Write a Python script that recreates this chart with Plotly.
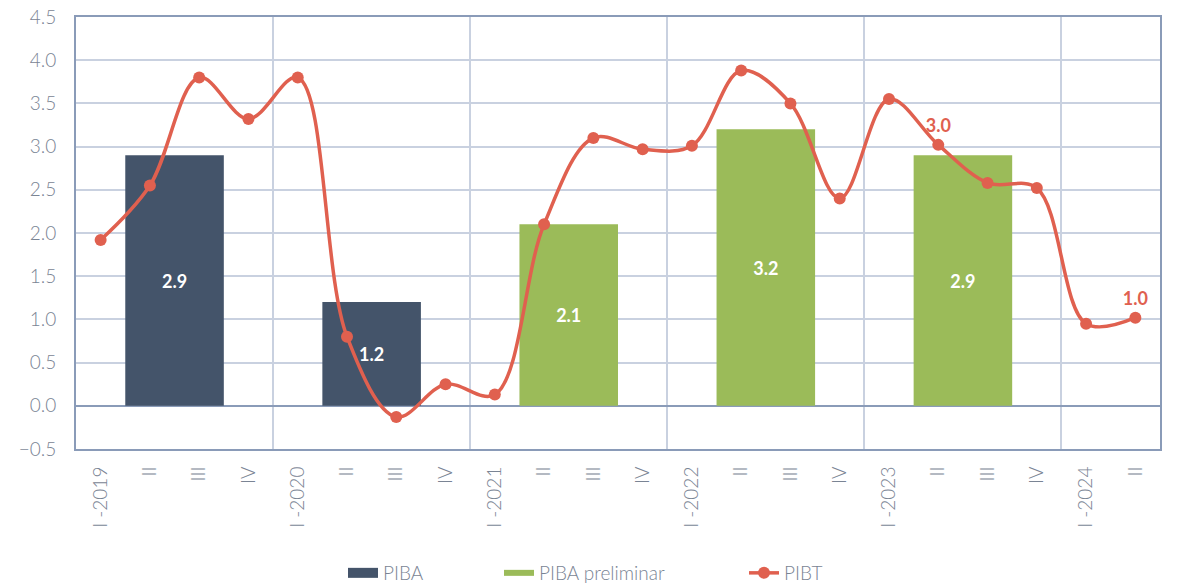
import plotly.graph_objects as go

quarters = ["I -2019", "II", "III", "IV", "I -2020", "II", "III", "IV",
            "I -2021", "II", "III", "IV", "I -2022", "II", "III", "IV",
            "I -2023", "II", "III", "IV", "I -2024", "II"]
pibt = [1.92, 2.55, 3.80, 3.32, 3.80, 0.80, -0.13, 0.25,
        0.13, 2.10, 3.10, 2.97, 3.01, 3.88, 3.50, 2.40,
        3.55, 3.02, 2.58, 2.52, 0.95, 1.02]
piba_years = [2019, 2020]
piba_values = [2.9, 1.2]
prelim_years = [2021, 2022, 2023]
prelim_values = [2.1, 3.2, 2.9]
pibt_labels = {17: "3.0", 21: "1.0"}

first_year = 2019
def year_center(y):
    return (y - first_year) * 4 + 1.5

xs = list(range(len(quarters)))
font_family = "Lato, 'Noto Sans', sans-serif"
c_piba = "#44546a"
c_pre = "#9bbb59"
c_line = "#e0604f"
c_text = "#7a8494"
c_axis = "#8a9bb8"
c_grid = "#c9d1e0"

W, H = 1184, 586
L, T = 76, 17
B = H - 449
R = W - 1160

def cx(p):
    return p / W

def cy(p):
    return 1 - p / H

fig = go.Figure()
fig.add_trace(go.Bar(
    x=[year_center(y) for y in piba_years], y=piba_values, width=2,
    name="PIBA", marker=dict(color=c_piba, line=dict(width=0)), showlegend=False,
    text=[f"{v:.1f}" for v in piba_values], textposition="inside",
    insidetextanchor="middle",
    textfont=dict(color="white", size=18, family=font_family, weight="bold"),
))
fig.add_trace(go.Bar(
    x=[year_center(y) for y in prelim_years], y=prelim_values, width=2,
    name="PIBA preliminar", marker=dict(color=c_pre, line=dict(width=0)), showlegend=False,
    text=[f"{v:.1f}" for v in prelim_values], textposition="inside",
    insidetextanchor="middle",
    textfont=dict(color="white", size=18, family=font_family, weight="bold"),
))
fig.add_trace(go.Scatter(
    x=xs, y=pibt, name="PIBT", mode="lines+markers+text", showlegend=False,
    line=dict(color=c_line, width=3.5, shape="spline", smoothing=1),
    marker=dict(color=c_line, size=12),
    text=[pibt_labels.get(i, "") for i in xs], textposition="top center",
    textfont=dict(color=c_line, size=18, family=font_family, weight="bold"),
))

# legend swatches
fig.add_trace(go.Scatter(x=[None], y=[None], mode="lines", name="PIBA",
                         line=dict(color=c_piba, width=10), legend="legend"))
fig.add_trace(go.Scatter(x=[None], y=[None], mode="lines", name="PIBA preliminar",
                         line=dict(color=c_pre, width=6), legend="legend2"))
fig.add_trace(go.Scatter(x=[None], y=[None], mode="lines+markers", name="PIBT",
                         line=dict(color=c_line, width=3.5),
                         marker=dict(color=c_line, size=12), legend="legend3"))

leg_common = dict(orientation="h", yanchor="middle", xanchor="left",
                  xref="container", yref="container",
                  font=dict(size=19, color=c_text, family=font_family, weight=300),
                  bgcolor="rgba(0,0,0,0)", itemwidth=30)
legy = cy(573)

fig.update_layout(
    width=W, height=H,
    margin=dict(l=L, r=R, t=T, b=B),
    paper_bgcolor="white", plot_bgcolor="white",
    barmode="overlay",
    font=dict(family=font_family, color=c_text),
    showlegend=True,
    legend=dict(x=cx(343), y=legy, **leg_common),
    legend2=dict(x=cx(499), y=legy, **leg_common),
    legend3=dict(x=cx(744), y=legy, **leg_common),
    xaxis=dict(
        range=[-0.5, len(quarters) - 0.5], automargin=False,
        tickmode="array", tickvals=xs, ticktext=quarters,
        tickangle=-90, tickfont=dict(size=19, color=c_text, weight=300),
        ticklabelstandoff=8, ticklabeloverflow="allow",
        showgrid=False, zeroline=False,
        showline=True, linecolor=c_axis, linewidth=2, mirror=True,
        ticks="",
        minor=dict(tickmode="array",
                   tickvals=[year_center(y) + 2 for y in range(2019, 2024)],
                   showgrid=True, gridcolor=c_grid, gridwidth=1.5, ticks=""),
    ),
    yaxis=dict(
        range=[-0.5, 4.5], dtick=0.5, tick0=0, tickformat=".1f", automargin=False,
        tickfont=dict(size=19, color=c_text, weight=300),
        ticklabelstandoff=14, ticklabeloverflow="allow",
        showgrid=True, gridcolor=c_grid, gridwidth=1.5,
        zeroline=True, zerolinecolor=c_axis, zerolinewidth=2,
        showline=True, linecolor=c_axis, linewidth=2, mirror=True,
        ticks="",
    ),
)

fig.write_html("out.html", config={"displayModeBar": False},
               post_script="document.body.style.margin='0';")
